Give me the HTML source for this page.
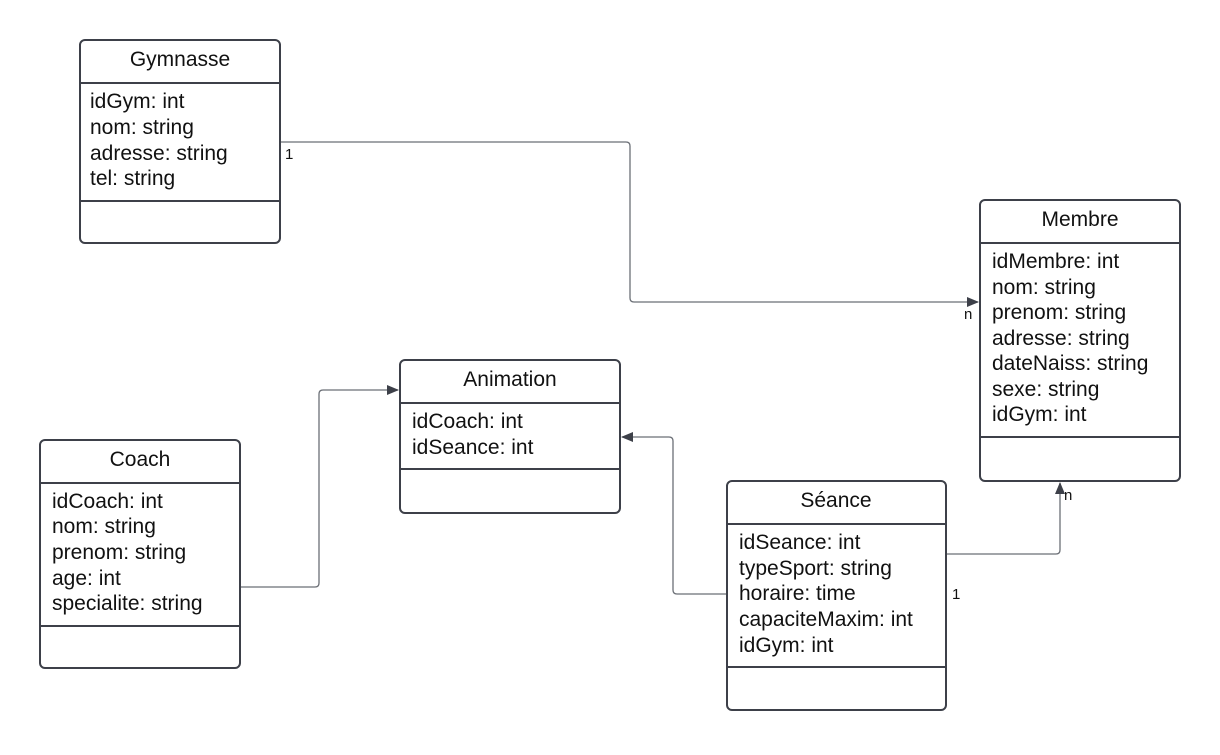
<!DOCTYPE html>
<html><head><meta charset="utf-8"><style>
body{margin:0;background:#fff;}
svg text{font-family:"Liberation Sans",sans-serif;fill:#111;}
</style></head><body>
<svg width="1220" height="750" xmlns="http://www.w3.org/2000/svg">
<defs><marker id="a" markerWidth="12" markerHeight="10" refX="11" refY="5" orient="auto" markerUnits="userSpaceOnUse"><path d="M0,0 L12,5 L0,10 z" fill="#3d4049"/></marker></defs>
<g fill="none" stroke="#6b6f76" stroke-width="1.3">
<path d="M281,142 H626 Q630,142 630,146 V298 Q630,302 634,302 H978" marker-end="url(#a)"/>
<path d="M241,587 H315 Q319,587 319,583 V394 Q319,390 323,390 H398" marker-end="url(#a)"/>
<path d="M727,594 H677 Q673,594 673,590 V441 Q673,437 669,437 H622" marker-end="url(#a)"/>
<path d="M947,554 H1056 Q1060,554 1060,550 V483" marker-end="url(#a)"/>
</g>
<g fill="#fff" stroke="#3d4049" stroke-width="2">
<rect x="80" y="40" width="200" height="203" rx="5"/><path d="M80,83H280M80,201H280"/>
<rect x="980" y="200" width="200" height="281" rx="5"/><path d="M980,243H1180M980,437H1180"/>
<rect x="400" y="360" width="220" height="153" rx="5"/><path d="M400,403H620M400,469H620"/>
<rect x="40" y="440" width="200" height="228" rx="5"/><path d="M40,483H240M40,626H240"/>
<rect x="727" y="481" width="219" height="229" rx="5"/><path d="M727,524H946M727,667H946"/>
</g>
<g font-size="21">
<text x="180" y="66" text-anchor="middle">Gymnasse</text>
<text x="90" y="108">idGym: int</text><text x="90" y="134">nom: string</text><text x="90" y="160">adresse: string</text><text x="90" y="185">tel: string</text>
<text x="1080" y="226" text-anchor="middle">Membre</text>
<text x="992" y="268">idMembre: int</text><text x="992" y="294">nom: string</text><text x="992" y="319">prenom: string</text><text x="992" y="345">adresse: string</text><text x="992" y="370">dateNaiss: string</text><text x="992" y="396">sexe: string</text><text x="992" y="421">idGym: int</text>
<text x="510" y="386" text-anchor="middle">Animation</text>
<text x="412" y="428">idCoach: int</text><text x="412" y="454">idSeance: int</text>
<text x="140" y="466" text-anchor="middle">Coach</text>
<text x="52" y="508">idCoach: int</text><text x="52" y="533">nom: string</text><text x="52" y="559">prenom: string</text><text x="52" y="585">age: int</text><text x="52" y="610">specialite: string</text>
<text x="836" y="507" text-anchor="middle">Séance</text>
<text x="739" y="549">idSeance: int</text><text x="739" y="575">typeSport: string</text><text x="739" y="600">horaire: time</text><text x="739" y="626">capaciteMaxim: int</text><text x="739" y="652">idGym: int</text>
</g>
<g font-size="15">
<text x="285" y="159">1</text><text x="964" y="319">n</text>
<text x="952" y="599">1</text><text x="1064" y="500">n</text>
</g>
</svg>
</body></html>
